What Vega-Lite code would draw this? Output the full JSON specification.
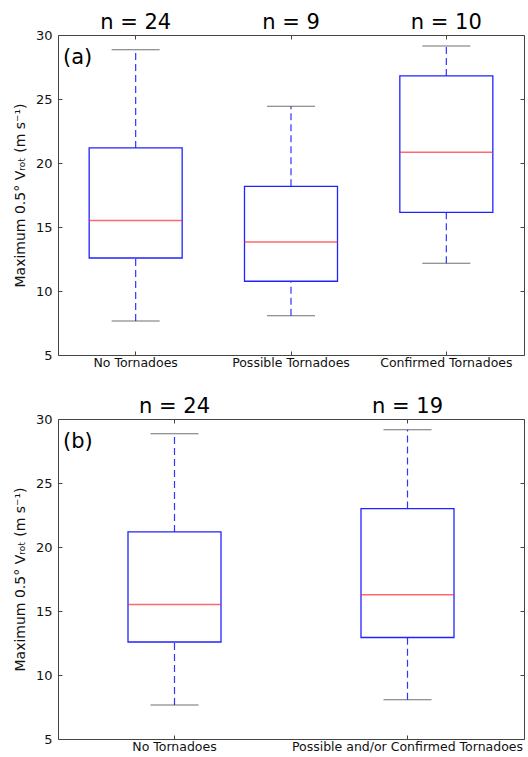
{
  "$schema": "https://vega.github.io/schema/vega-lite/v6.json",
  "background": "white",
  "padding": {"left": 12, "top": 11, "right": 4, "bottom": 2},
  "config": {
    "font": "DejaVu Sans",
    "view": {"stroke": "#444", "strokeWidth": 1},
    "axis": {"grid": false, "domain": false, "tickColor": "#444", "tickSize": -4, "labelColor": "#111", "labelFont": "DejaVu Sans", "titleFont": "DejaVu Sans", "titleColor": "#111", "titleFontWeight": "normal", "labelLimit": 0},
    "concat": {"spacing": 26}
  },
  "datasets": {
    "a": [
      {"group": "No Tornadoes", "min": 7.66, "q1": 12.58, "median": 15.5, "q3": 21.18, "max": 28.85, "nlabel": "n = 24"},
      {"group": "Possible Tornadoes", "min": 8.07, "q1": 10.76, "median": 13.83, "q3": 18.18, "max": 24.43, "nlabel": "n = 9"},
      {"group": "Confirmed Tornadoes", "min": 12.16, "q1": 16.15, "median": 20.84, "q3": 26.8, "max": 29.14, "nlabel": "n = 10"}
    ],
    "b": [
      {"group": "No Tornadoes", "min": 7.66, "q1": 12.58, "median": 15.5, "q3": 21.18, "max": 28.85, "nlabel": "n = 24"},
      {"group": "Possible and/or Confirmed Tornadoes", "min": 8.07, "q1": 12.93, "median": 16.27, "q3": 23.0, "max": 29.16, "nlabel": "n = 19"}
    ]
  },
  "vconcat": [
    {
      "width": 466,
      "height": 320,
      "data": {"name": "a"},
      "encoding": {
        "x": {"field": "group", "type": "nominal", "sort": ["No Tornadoes", "Possible Tornadoes", "Confirmed Tornadoes"], "scale": {"paddingInner": 0, "paddingOuter": 0}, "axis": null}
      },
      "layer": [
        {
          "mark": {"type": "rule", "color": "#3333ff", "strokeDash": [7, 4], "strokeWidth": 1.2},
          "encoding": {
            "x": {"field": "group", "type": "nominal", "sort": ["No Tornadoes", "Possible Tornadoes", "Confirmed Tornadoes"], "axis": {"orient": "bottom", "title": null, "labelAngle": 0, "labelFontSize": 12.5, "labelPadding": 5}},
            "y": {"field": "min", "type": "quantitative", "scale": {"domain": [5, 30], "nice": false, "zero": false}, "axis": {"orient": "left", "values": [5, 10, 15, 20, 25, 30], "labelFontSize": 13, "labelPadding": 10, "title": "Maximum 0.5° Vᵣₒₜ (m s⁻¹)", "titleFontSize": 14, "titlePadding": 8}},
            "y2": {"field": "q1"}
          }
        },
        {
          "mark": {"type": "rule", "color": "#3333ff", "strokeDash": [7, 4], "strokeWidth": 1.2},
          "encoding": {
            "y": {"field": "q3", "type": "quantitative", "axis": null},
            "y2": {"field": "max"}
          }
        },
        {
          "mark": {"type": "tick", "color": "#333", "size": 48, "thickness": 1},
          "encoding": {
            "x": {"field": "group", "type": "nominal", "sort": ["No Tornadoes", "Possible Tornadoes", "Confirmed Tornadoes"], "axis": {"orient": "top", "title": null, "labels": false}},
            "y": {"field": "min", "type": "quantitative", "axis": {"orient": "right", "title": null, "labels": false, "values": [5, 10, 15, 20, 25, 30]}}
          }
        },
        {
          "mark": {"type": "tick", "color": "#333", "size": 48, "thickness": 1},
          "encoding": {
            "y": {"field": "max", "type": "quantitative", "axis": null}
          }
        },
        {
          "mark": {"type": "bar", "width": 93, "fill": "white", "stroke": "#2222ff", "strokeWidth": 1.3},
          "encoding": {
            "y": {"field": "q1", "type": "quantitative", "axis": null},
            "y2": {"field": "q3"}
          }
        },
        {
          "mark": {"type": "tick", "color": "#ff2a2a", "size": 93, "thickness": 1.5},
          "encoding": {
            "y": {"field": "median", "type": "quantitative", "axis": null}
          }
        },
        {
          "mark": {"type": "text", "fontSize": 21, "baseline": "alphabetic", "dy": -6, "color": "black"},
          "encoding": {
            "y": {"datum": 30, "type": "quantitative", "axis": null},
            "text": {"field": "nlabel"}
          }
        },
        {
          "data": {"values": [{"panel": "(a)"}]},
          "mark": {"type": "text", "fontSize": 21, "baseline": "alphabetic", "align": "left", "dx": 5, "dy": 29, "color": "black"},
          "encoding": {
            "x": {"datum": "No Tornadoes", "type": "nominal", "bandPosition": 0, "axis": null},
            "y": {"datum": 30, "type": "quantitative", "axis": null},
            "text": {"field": "panel"}
          }
        }
      ],
      "resolve": {"axis": {"x": "independent", "y": "independent"}}
    },
    {
      "width": 466,
      "height": 320,
      "data": {"name": "b"},
      "encoding": {
        "x": {"field": "group", "type": "nominal", "sort": ["No Tornadoes", "Possible and/or Confirmed Tornadoes"], "scale": {"paddingInner": 0, "paddingOuter": 0}, "axis": null}
      },
      "layer": [
        {
          "mark": {"type": "rule", "color": "#3333ff", "strokeDash": [7, 4], "strokeWidth": 1.2},
          "encoding": {
            "x": {"field": "group", "type": "nominal", "sort": ["No Tornadoes", "Possible and/or Confirmed Tornadoes"], "axis": {"orient": "bottom", "title": null, "labelAngle": 0, "labelFontSize": 12.5, "labelPadding": 5}},
            "y": {"field": "min", "type": "quantitative", "scale": {"domain": [5, 30], "nice": false, "zero": false}, "axis": {"orient": "left", "values": [5, 10, 15, 20, 25, 30], "labelFontSize": 13, "labelPadding": 10, "title": "Maximum 0.5° Vᵣₒₜ (m s⁻¹)", "titleFontSize": 14, "titlePadding": 8}},
            "y2": {"field": "q1"}
          }
        },
        {
          "mark": {"type": "rule", "color": "#3333ff", "strokeDash": [7, 4], "strokeWidth": 1.2},
          "encoding": {
            "y": {"field": "q3", "type": "quantitative", "axis": null},
            "y2": {"field": "max"}
          }
        },
        {
          "mark": {"type": "tick", "color": "#333", "size": 48, "thickness": 1},
          "encoding": {
            "x": {"field": "group", "type": "nominal", "sort": ["No Tornadoes", "Possible and/or Confirmed Tornadoes"], "axis": {"orient": "top", "title": null, "labels": false}},
            "y": {"field": "min", "type": "quantitative", "axis": {"orient": "right", "title": null, "labels": false, "values": [5, 10, 15, 20, 25, 30]}}
          }
        },
        {
          "mark": {"type": "tick", "color": "#333", "size": 48, "thickness": 1},
          "encoding": {
            "y": {"field": "max", "type": "quantitative", "axis": null}
          }
        },
        {
          "mark": {"type": "bar", "width": 93, "fill": "white", "stroke": "#2222ff", "strokeWidth": 1.3},
          "encoding": {
            "y": {"field": "q1", "type": "quantitative", "axis": null},
            "y2": {"field": "q3"}
          }
        },
        {
          "mark": {"type": "tick", "color": "#ff2a2a", "size": 93, "thickness": 1.5},
          "encoding": {
            "y": {"field": "median", "type": "quantitative", "axis": null}
          }
        },
        {
          "mark": {"type": "text", "fontSize": 21, "baseline": "alphabetic", "dy": -6, "color": "black"},
          "encoding": {
            "y": {"datum": 30, "type": "quantitative", "axis": null},
            "text": {"field": "nlabel"}
          }
        },
        {
          "data": {"values": [{"panel": "(b)"}]},
          "mark": {"type": "text", "fontSize": 21, "baseline": "alphabetic", "align": "left", "dx": 5, "dy": 29, "color": "black"},
          "encoding": {
            "x": {"datum": "No Tornadoes", "type": "nominal", "bandPosition": 0, "axis": null},
            "y": {"datum": 30, "type": "quantitative", "axis": null},
            "text": {"field": "panel"}
          }
        }
      ],
      "resolve": {"axis": {"x": "independent", "y": "independent"}}
    }
  ]
}
